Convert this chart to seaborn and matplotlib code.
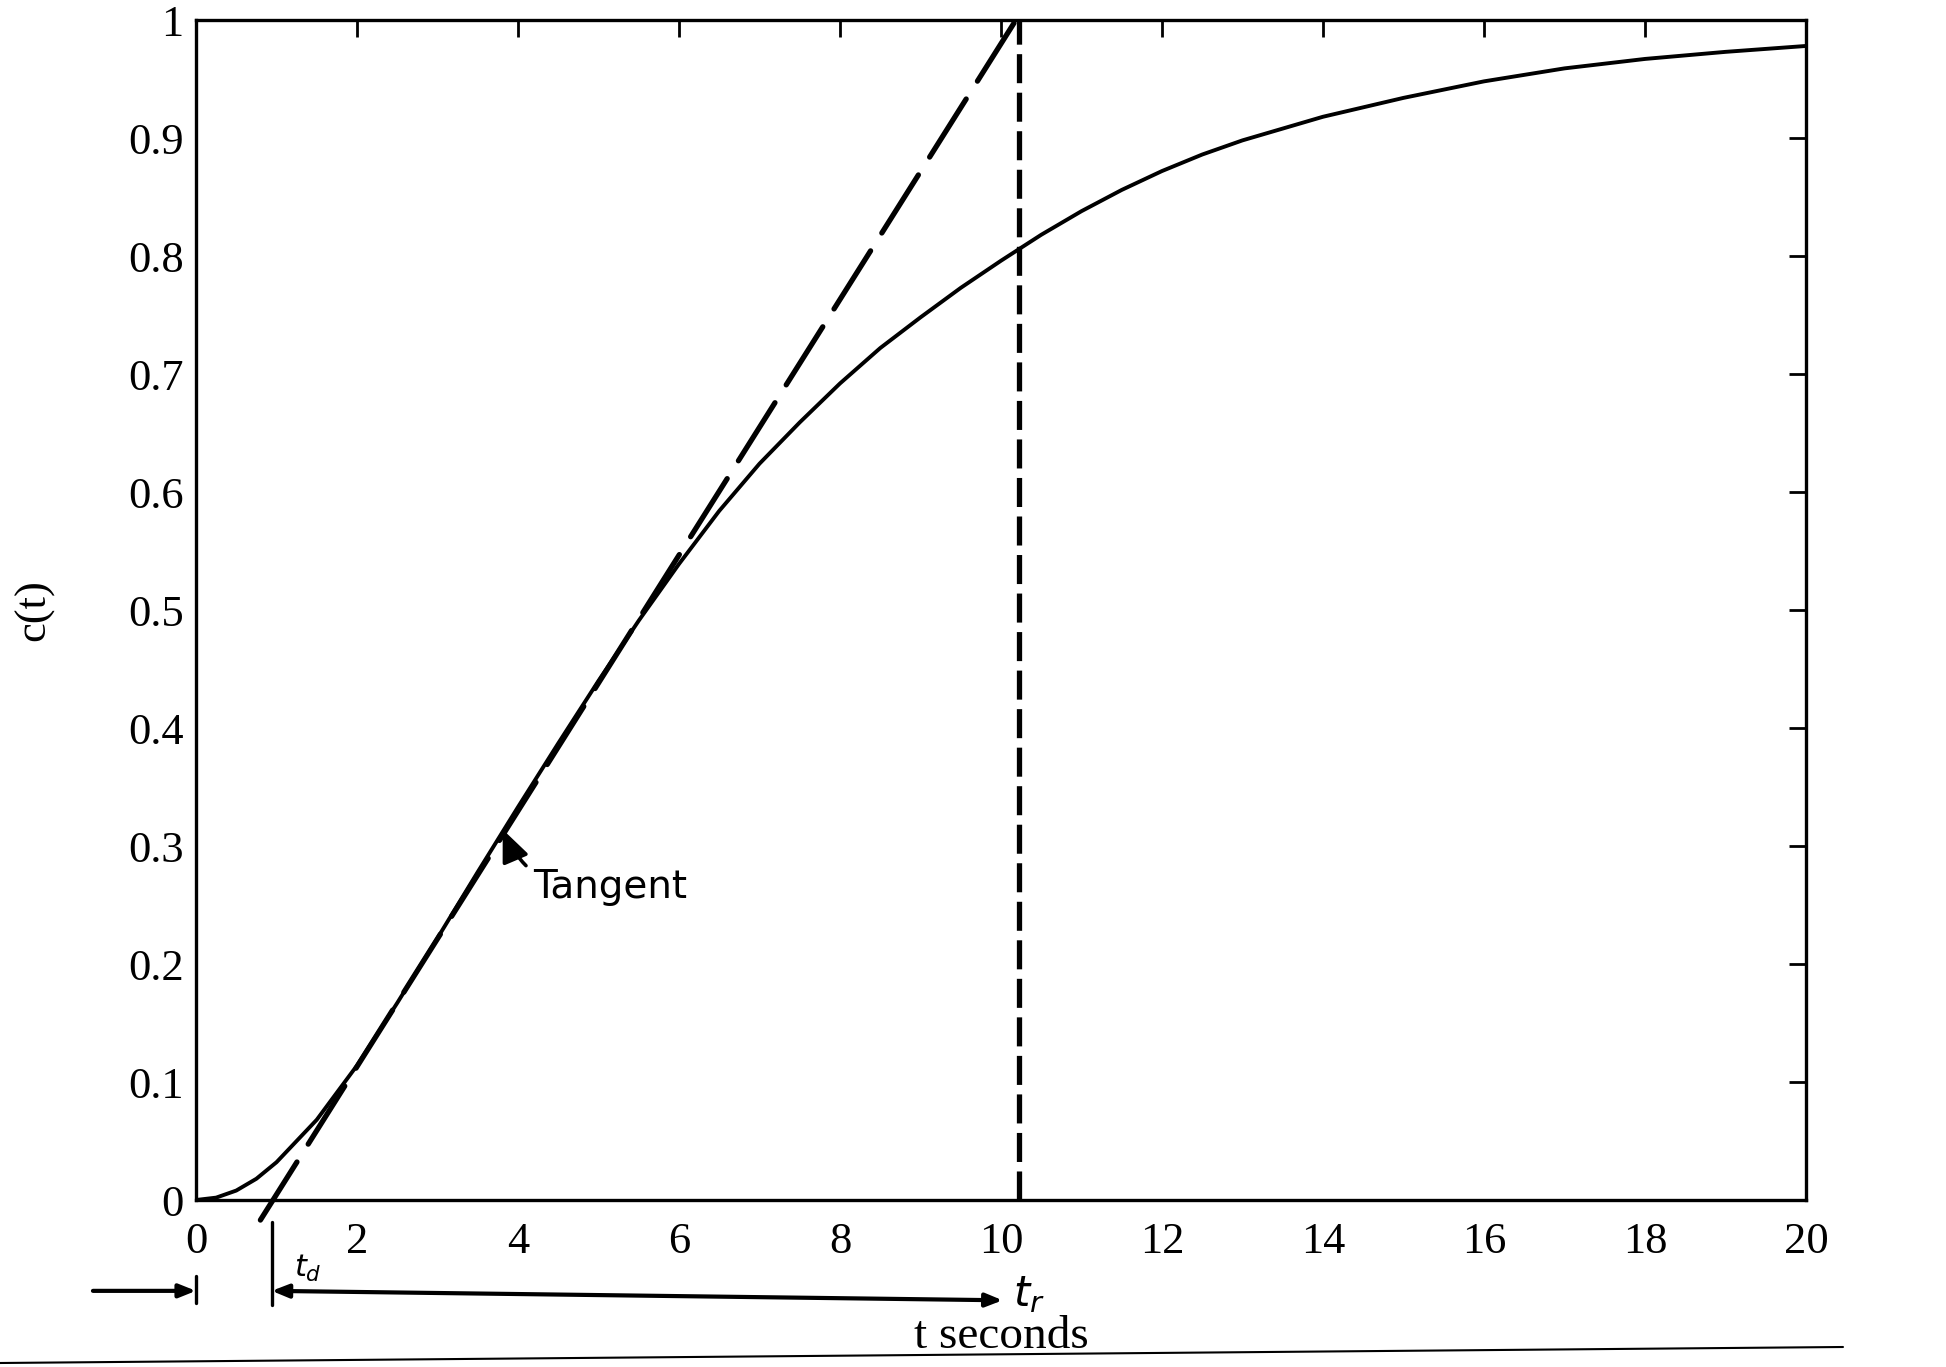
import numpy as np
import pandas as pd
import matplotlib
matplotlib.use("Agg")
import matplotlib.pyplot as plt
import seaborn as sns
from matplotlib.lines import Line2D

# ---- data ----
t_vals = [0, 0.25, 0.5, 0.75, 1, 1.5, 2, 2.5, 3, 3.5, 4, 4.5, 5, 5.5, 6, 6.5, 7, 7.5,
          8, 8.5, 9, 9.5, 10, 10.5, 11, 11.5, 12, 12.5, 13, 14, 15, 16, 17, 18, 19, 20]
c_vals = [0, 0.002, 0.008, 0.018, 0.032, 0.068, 0.114, 0.167, 0.222, 0.278, 0.333,
          0.387, 0.44, 0.491, 0.539, 0.584, 0.624, 0.659, 0.692, 0.722, 0.748, 0.773,
          0.796, 0.818, 0.838, 0.856, 0.872, 0.886, 0.898, 0.918, 0.934, 0.948,
          0.959, 0.967, 0.973, 0.978]
tangent_t = [0.80, 10.25]
tangent_c = [-0.017, 1.007]
t_rise = 10.22
t_delay = 0.94
x_ticks = [0, 2, 4, 6, 8, 10, 12, 14, 16, 18, 20]
x_ticklabels = ["0", "2", "4", "6", "8", "10", "12", "14", "16", "18", "20"]
y_ticks = [0, 0.1, 0.2, 0.3, 0.4, 0.5, 0.6, 0.7, 0.8, 0.9, 1.0]
y_ticklabels = ["0", "0.1", "0.2", "0.3", "0.4", "0.5", "0.6", "0.7", "0.8", "0.9", "1"]

sns.set_style("white")
plt.rcParams["font.family"] = ["Liberation Serif", "DejaVu Serif"]
plt.rcParams["mathtext.fontset"] = "dejavusans"
plt.rcParams["text.color"] = "black"
plt.rcParams["axes.labelcolor"] = "black"

fig = plt.figure(figsize=(19.46, 13.67), dpi=100)
ax = fig.add_axes([196 / 1946, 1 - 1200 / 1367, 1610 / 1946, 1180 / 1367])

df = pd.DataFrame({"t": t_vals, "c": c_vals})
sns.lineplot(data=df, x="t", y="c", ax=ax, color="black", linewidth=2.8)

# tangent (dashed)
ax.plot(tangent_t, tangent_c, color="black", linewidth=3.8,
        dashes=(13, 4), clip_on=False, dash_capstyle="round")
# vertical dashed line at rise time
ax.plot([t_rise, t_rise], [0, 1], color="black", linewidth=3.8,
        dashes=(5.5, 1.8), clip_on=False)

ax.set_xlim(0, 20)
ax.set_ylim(0, 1)
ax.set_xticks(x_ticks)
ax.set_xticklabels(x_ticklabels)
ax.set_yticks(y_ticks)
ax.set_yticklabels(y_ticklabels)
ax.tick_params(direction="in", length=12, width=2, top=True, right=True,
               labelsize=32, colors="black")
ax.tick_params(axis="x", pad=16)
ax.tick_params(axis="y", pad=9)
for sp in ax.spines.values():
    sp.set_linewidth(2.4)
    sp.set_color("black")

ax.set_xlabel("t seconds", fontsize=34, color="black")
ax.xaxis.set_label_coords(0.5, -0.098)
ax.set_ylabel("c(t)", fontsize=32, color="black")
ax.yaxis.set_label_coords(-0.088, 0.5)

# Tangent annotation
ax.annotate("Tangent", xy=(3.81, 0.314), xytext=(4.19, 0.265),
            fontsize=28, family="DejaVu Sans", va="center", ha="left",
            color="black",
            arrowprops=dict(arrowstyle="-|>,head_length=0.7,head_width=0.3",
                            color="black", lw=2.6,
                            connectionstyle="arc3,rad=-0.4",
                            shrinkA=4, shrinkB=0))

# bottom annotations (below the axis)
ax.annotate("", xy=(0, -0.077), xytext=(-1.28, -0.077), annotation_clip=False,
            arrowprops=dict(arrowstyle="-|>,head_length=1.0,head_width=0.4",
                            color="black", lw=3, shrinkA=0, shrinkB=0))
ax.plot([0, 0], [-0.064, -0.087], color="black", lw=2.4, clip_on=False)
ax.plot([t_delay, t_delay], [-0.019, -0.089], color="black", lw=2.4, clip_on=False)
ax.annotate("", xy=(t_delay, -0.077), xytext=(10.02, -0.085), annotation_clip=False,
            arrowprops=dict(arrowstyle="<|-|>,head_length=1.0,head_width=0.4",
                            color="black", lw=3, shrinkA=0, shrinkB=0))
ax.text(1.39, -0.058, "$t_d$", fontsize=22, ha="center", va="center",
        clip_on=False, color="black")
ax.text(10.35, -0.08, "$t_r$", fontsize=30, ha="center", va="center",
        clip_on=False, color="black")

# scanned page edge line
fig.add_artist(Line2D([0, 1843 / 1946], [1 - 1363 / 1367, 1 - 1347 / 1367],
                      color="black", lw=1.5, transform=fig.transFigure))

fig.savefig("out.png", dpi=100, facecolor="white")
